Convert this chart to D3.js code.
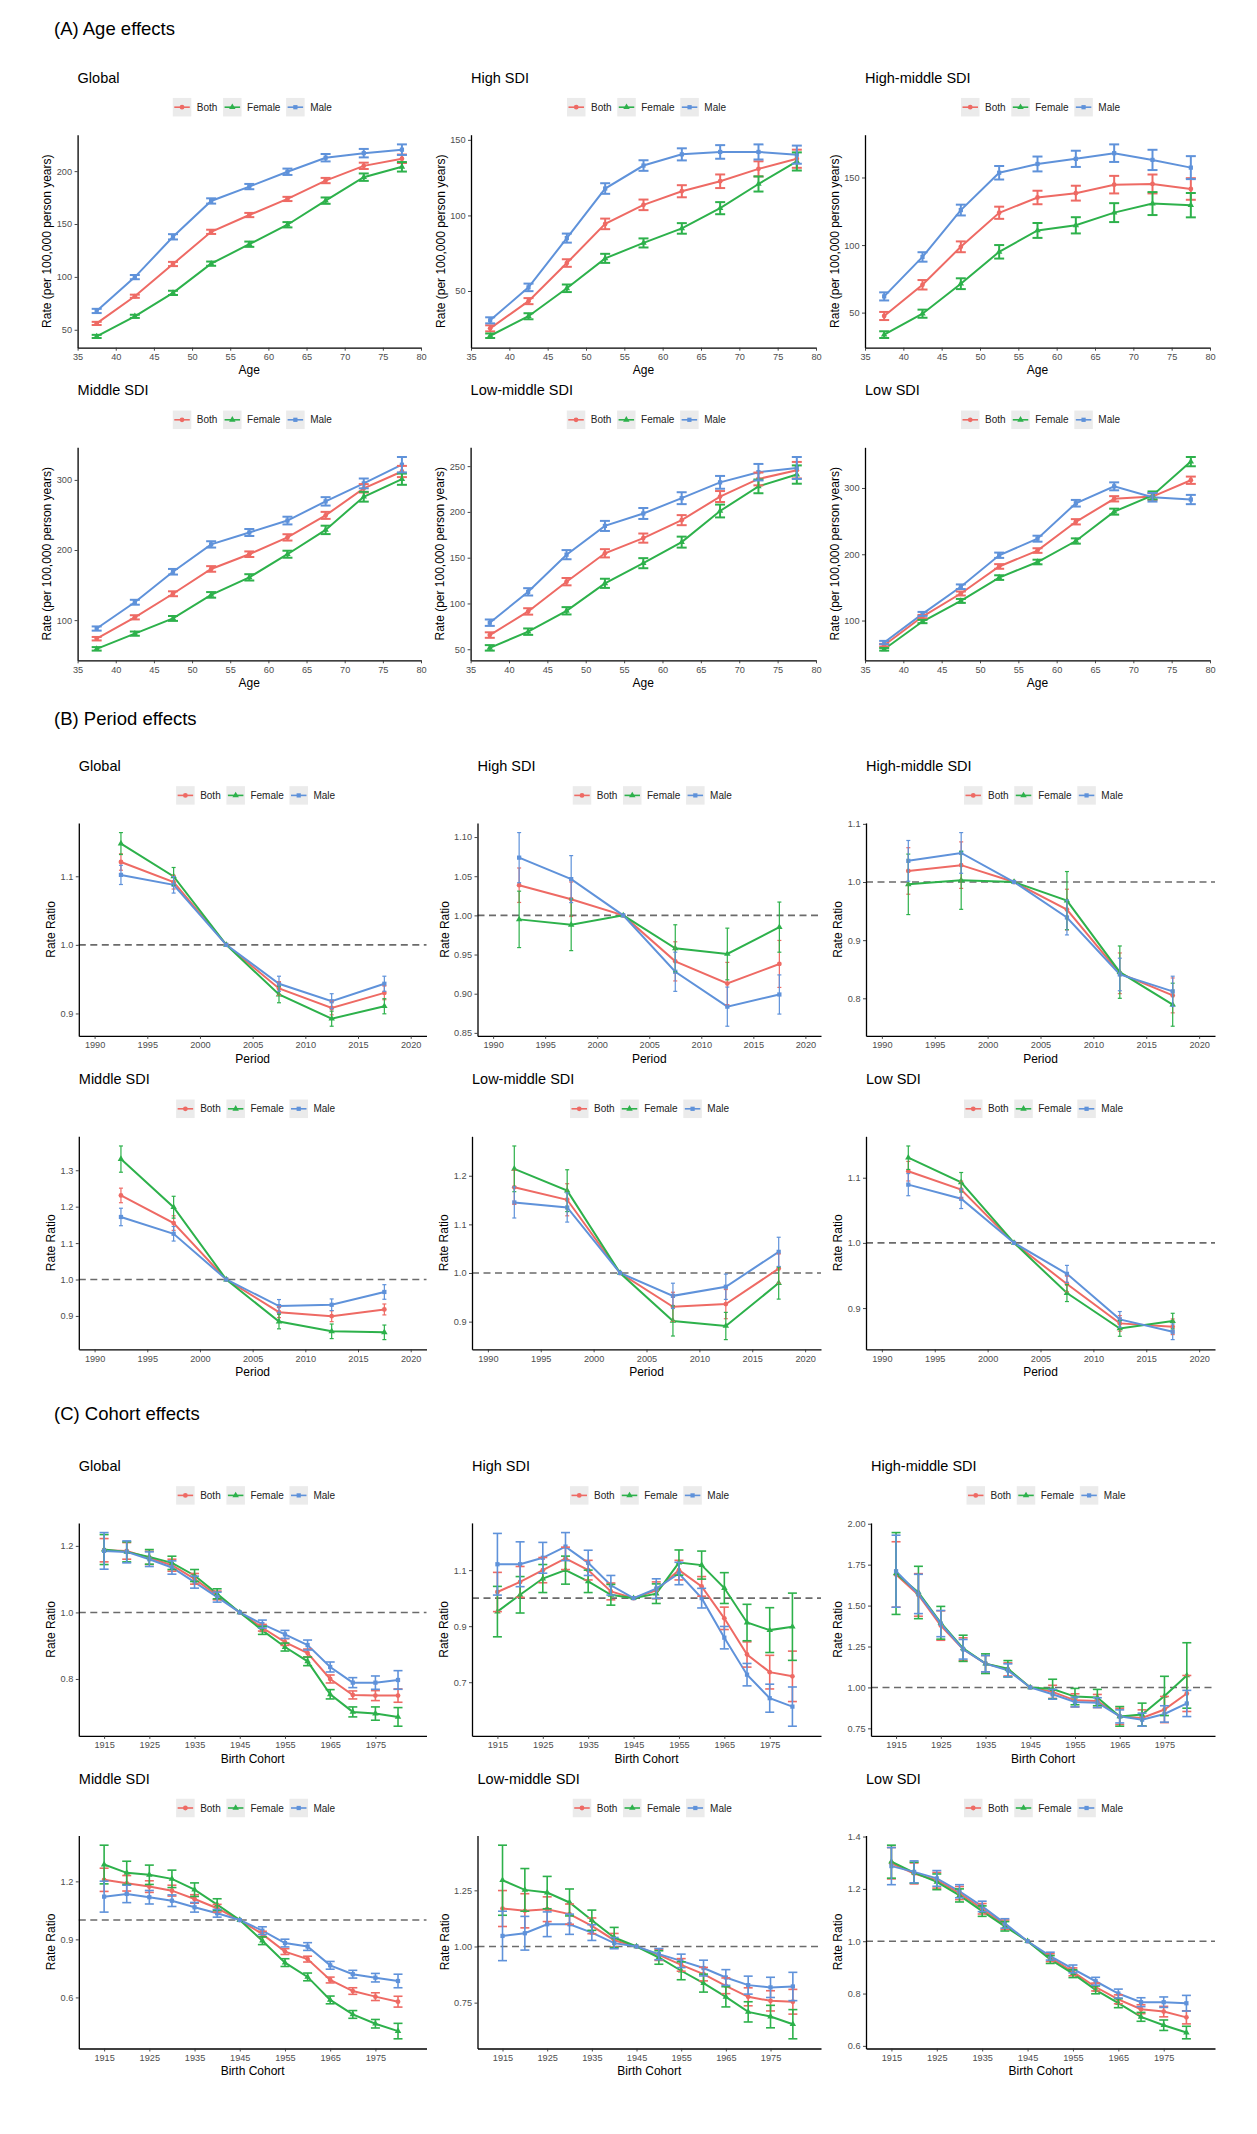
<!DOCTYPE html>
<html>
<head>
<meta charset="utf-8">
<script src="https://cdn.jsdelivr.net/npm/d3@7"></script>
<style>
body { margin: 0; background: #fff; }
svg { display: block; font-family: "Liberation Sans", Arial, sans-serif; }
</style>
</head>
<body>
<div id="app"></div>
<script>
// ---- data ----
const sexes = ['Both', 'Female', 'Male']
const colors = ['#EE6A64', '#2DB14B', '#5F92DA']
const regions = ['Global', 'High SDI', 'High-middle SDI', 'Middle SDI', 'Low-middle SDI', 'Low SDI']

const ageX = [37.5, 42.5, 47.5, 52.5, 57.5, 62.5, 67.5, 72.5, 77.5]
const periodX = [1992.5, 1997.5, 2002.5, 2007.5, 2012.5, 2017.5]
const cohortX = [1915, 1920, 1925, 1930, 1935, 1940, 1945, 1950, 1955, 1960, 1965, 1970, 1975, 1980]

const ageXTicks = [35, 40, 45, 50, 55, 60, 65, 70, 75, 80]
const periodXTicks = [1990, 1995, 2000, 2005, 2010, 2015, 2020]
const cohortXTicks = [1915, 1925, 1935, 1945, 1955, 1965, 1975]

// rows: Both, Female, Male
const ageGlobal = [
  [56, 81.7, 112.2, 142.6, 158.5, 173.7, 191.1, 205, 211.7],
  [43.7, 62.7, 84.9, 112.5, 130.9, 149.3, 172.1, 194.3, 204.1],
  [67.8, 99.8, 137.9, 171.8, 185.4, 199.4, 212.7, 217, 220.3]]
const ageGlobalErr = [
  [1.5, 1.5, 2, 2, 2, 2, 2.5, 3, 4],
  [1.5, 1.5, 2, 2, 2.5, 2.5, 3, 3.5, 4.5],
  [2, 2, 2.5, 2.5, 2.5, 3, 3.5, 4, 5]]
const ageHigh = [
  [25.3, 43.3, 68.5, 94.4, 107, 116, 122.6, 130.8, 137.5],
  [20.4, 33.3, 51.8, 71.6, 81.8, 91.4, 104.8, 120.8, 135.7],
  [30.6, 52.4, 85, 117.8, 133, 140.4, 142, 142, 140.2]]
const ageHighErr = [
  [2, 2, 2.5, 3.5, 3.5, 4, 4.5, 5, 6],
  [1.5, 2, 2.5, 3, 3, 3.5, 4, 5, 6],
  [2, 2.5, 3, 3.5, 3.5, 4, 4.5, 5, 6]]
const ageHighMid = [
  [47.5, 70.6, 98.7, 123.9, 135.2, 138.4, 144.7, 145.2, 141.5],
  [33.7, 49.2, 71.4, 95, 110.8, 114.6, 124, 130.7, 129.5],
  [62, 91.2, 125.9, 153.5, 160, 163.8, 168, 163, 157.3]]
const ageHighMidErr = [
  [3, 3.5, 4, 4.5, 5, 5.5, 6.5, 7, 8],
  [2.5, 3, 4, 5, 5.5, 6, 7, 8.5, 9],
  [3, 3.5, 4, 5, 5.5, 6, 6.5, 7.5, 8.5]]
const ageMiddle = [
  [73.5, 104, 137.6, 173, 194, 218, 249.4, 288, 312],
  [59, 80.7, 102.4, 136, 161, 194, 228.7, 276, 301],
  [88, 125.5, 169, 208, 225, 242, 269.4, 295, 321.7]]
const ageMiddleErr = [
  [2.5, 3, 3.5, 4, 4, 4.5, 5, 6, 8],
  [2.5, 3, 3.5, 4, 4.5, 5, 6, 7, 8],
  [3, 3.5, 4, 4.5, 5, 5.5, 6, 7, 11]]
const ageLowMid = [
  [65.5, 91.3, 123.8, 154.8, 171.4, 191, 216.8, 236, 245.6],
  [51.5, 69.2, 92, 122, 144, 167, 201, 227.9, 240.8],
  [79, 112.7, 153.3, 184.7, 198.3, 215, 232.3, 243.4, 248]]
const ageLowMidErr = [
  [3, 3.5, 4, 4.5, 5, 5.5, 6, 7, 9],
  [3, 3.5, 4, 5, 5.5, 6, 7, 7.5, 10],
  [3.5, 4, 5, 5.5, 6, 6.5, 7, 9, 12]]
const ageLow = [
  [62.8, 106, 140.8, 181.6, 205.6, 249, 283.7, 287, 311.7],
  [56.6, 98.5, 129.6, 164.8, 188.3, 220, 264.3, 288.8, 339.8],
  [66.8, 110, 151, 198.5, 223.5, 277, 302.5, 286, 282.6]]
const ageLowErr = [
  [2, 2.5, 3, 3.5, 3.5, 4, 4, 5, 5.5],
  [2, 2.5, 3, 3.5, 3.5, 4, 4.5, 6, 7],
  [2.5, 3, 3.5, 4, 4.5, 5, 6, 6.5, 7]]

const periodGlobal = [
  [1.1208, 1.0914, 1, 0.9364, 0.908, 0.930],
  [1.1477, 1.0998, 1, 0.9276, 0.8924, 0.9105],
  [1.102, 1.0875, 1, 0.9433, 0.9178, 0.9433]]
const periodGlobalErr = [
  [0.012, 0.01, 0, 0.01, 0.01, 0.01],
  [0.016, 0.013, 0, 0.012, 0.011, 0.011],
  [0.014, 0.012, 0, 0.011, 0.011, 0.011]]
const periodHigh = [
  [1.0385, 1.0206, 1, 0.9413, 0.913, 0.938],
  [0.9949, 0.988, 1, 0.958, 0.9507, 0.985],
  [1.0737, 1.0463, 1, 0.928, 0.8835, 0.899]]
const periodHighErr = [
  [0.022, 0.022, 0, 0.025, 0.027, 0.03],
  [0.036, 0.033, 0, 0.03, 0.033, 0.032],
  [0.032, 0.03, 0, 0.025, 0.025, 0.025]]
const periodHighMid = [
  [1.019, 1.029, 1, 0.9526, 0.843, 0.805],
  [0.996, 1.003, 1, 0.968, 0.845, 0.789],
  [1.0364, 1.050, 1, 0.939, 0.841, 0.812]]
const periodHighMidErr = [
  [0.04, 0.04, 0, 0.035, 0.035, 0.03],
  [0.052, 0.05, 0, 0.05, 0.045, 0.037],
  [0.035, 0.035, 0, 0.03, 0.028, 0.026]]
const periodMiddle = [
  [1.2308, 1.155, 1, 0.9104, 0.8993, 0.9178],
  [1.3306, 1.1985, 1, 0.8846, 0.8578, 0.855],
  [1.1717, 1.1256, 1, 0.927, 0.9307, 0.9658]]
const periodMiddleErr = [
  [0.02, 0.02, 0, 0.015, 0.015, 0.015],
  [0.036, 0.03, 0, 0.02, 0.02, 0.02],
  [0.024, 0.02, 0, 0.018, 0.016, 0.02]]
const periodLowMid = [
  [1.1762, 1.1506, 1, 0.9304, 0.936, 1.009],
  [1.2142, 1.1693, 1, 0.9014, 0.891, 0.9793],
  [1.1451, 1.1347, 1, 0.953, 0.9717, 1.0435]]
const periodLowMidErr = [
  [0.035, 0.033, 0, 0.03, 0.03, 0.03],
  [0.047, 0.043, 0, 0.031, 0.028, 0.033],
  [0.032, 0.03, 0, 0.026, 0.026, 0.03]]
const periodLow = [
  [1.110, 1.0817, 1, 0.937, 0.8765, 0.8713],
  [1.1307, 1.093, 1, 0.923, 0.8687, 0.880],
  [1.0894, 1.0677, 1, 0.9525, 0.8827, 0.8636]]
const periodLowErr = [
  [0.015, 0.013, 0, 0.012, 0.012, 0.012],
  [0.018, 0.015, 0, 0.013, 0.012, 0.012],
  [0.017, 0.015, 0, 0.013, 0.012, 0.012]]

const cohortGlobal = [
  [1.187, 1.185, 1.164, 1.142, 1.101, 1.051, 1, 0.954, 0.911, 0.878, 0.800, 0.752, 0.750, 0.750],
  [1.189, 1.182, 1.167, 1.149, 1.111, 1.056, 1, 0.946, 0.896, 0.853, 0.754, 0.701, 0.696, 0.686],
  [1.185, 1.182, 1.16, 1.135, 1.091, 1.046, 1, 0.965, 0.934, 0.902, 0.836, 0.789, 0.789, 0.797]]
const cohortGlobalErr = [
  [0.035, 0.025, 0.02, 0.018, 0.016, 0.013, 0, 0.01, 0.01, 0.012, 0.012, 0.012, 0.015, 0.02],
  [0.045, 0.03, 0.022, 0.02, 0.018, 0.015, 0, 0.012, 0.012, 0.013, 0.014, 0.015, 0.02, 0.028],
  [0.055, 0.033, 0.022, 0.02, 0.018, 0.015, 0, 0.012, 0.012, 0.015, 0.015, 0.015, 0.02, 0.028]]
const cohortHigh = [
  [1.022, 1.058, 1.1, 1.142, 1.1, 1.024, 1, 1.028, 1.1, 1.042, 0.928, 0.799, 0.736, 0.721],
  [0.952, 1.012, 1.07, 1.1, 1.06, 1.012, 1, 1.016, 1.127, 1.118, 1.036, 0.913, 0.886, 0.898],
  [1.121, 1.121, 1.144, 1.184, 1.126, 1.046, 1, 1.034, 1.088, 1.0, 0.859, 0.727, 0.643, 0.613]]
const cohortHighErr = [
  [0.07, 0.055, 0.045, 0.04, 0.035, 0.03, 0, 0.03, 0.035, 0.035, 0.04, 0.045, 0.06, 0.09],
  [0.09, 0.065, 0.05, 0.05, 0.04, 0.037, 0, 0.035, 0.045, 0.05, 0.055, 0.065, 0.08, 0.12],
  [0.11, 0.08, 0.055, 0.05, 0.045, 0.035, 0, 0.035, 0.04, 0.035, 0.04, 0.04, 0.05, 0.07]]
const cohortHighMid = [
  [1.69, 1.565, 1.378, 1.233, 1.145, 1.11, 1, 0.973, 0.921, 0.917, 0.823, 0.813, 0.865, 0.963],
  [1.696, 1.58, 1.395, 1.239, 1.145, 1.114, 1, 0.99, 0.944, 0.938, 0.823, 0.834, 0.948, 1.073],
  [1.71, 1.571, 1.39, 1.233, 1.145, 1.104, 1, 0.958, 0.911, 0.907, 0.823, 0.803, 0.838, 0.902]]
const cohortHighMidErr = [
  [0.2, 0.13, 0.09, 0.07, 0.05, 0.04, 0, 0.04, 0.04, 0.04, 0.05, 0.05, 0.08, 0.11],
  [0.25, 0.16, 0.1, 0.08, 0.06, 0.05, 0, 0.06, 0.05, 0.05, 0.06, 0.07, 0.12, 0.2],
  [0.22, 0.12, 0.08, 0.06, 0.05, 0.04, 0, 0.03, 0.03, 0.03, 0.04, 0.04, 0.05, 0.08]]
const cohortMiddle = [
  [1.208, 1.19, 1.173, 1.152, 1.109, 1.061, 1, 0.927, 0.837, 0.798, 0.69, 0.633, 0.604, 0.578],
  [1.287, 1.244, 1.234, 1.213, 1.157, 1.08, 1, 0.893, 0.78, 0.706, 0.587, 0.512, 0.464, 0.426],
  [1.121, 1.135, 1.118, 1.1, 1.066, 1.035, 1, 0.945, 0.881, 0.863, 0.766, 0.72, 0.702, 0.685]]
const cohortMiddleErr = [
  [0.06, 0.04, 0.03, 0.028, 0.022, 0.02, 0, 0.015, 0.015, 0.015, 0.015, 0.017, 0.02, 0.028],
  [0.1, 0.06, 0.05, 0.045, 0.035, 0.03, 0, 0.02, 0.02, 0.02, 0.02, 0.02, 0.022, 0.04],
  [0.08, 0.045, 0.035, 0.03, 0.025, 0.02, 0, 0.02, 0.02, 0.02, 0.02, 0.02, 0.022, 0.035]]
const cohortLowMid = [
  [1.169, 1.159, 1.166, 1.144, 1.092, 1.028, 1, 0.963, 0.918, 0.877, 0.825, 0.776, 0.758, 0.754],
  [1.295, 1.252, 1.24, 1.196, 1.117, 1.04, 1, 0.951, 0.892, 0.837, 0.776, 0.709, 0.688, 0.654],
  [1.047, 1.059, 1.099, 1.099, 1.062, 1.015, 1, 0.966, 0.936, 0.904, 0.862, 0.828, 0.818, 0.822]]
const cohortLowMidErr = [
  [0.08, 0.076, 0.055, 0.045, 0.035, 0.03, 0, 0.025, 0.028, 0.03, 0.035, 0.04, 0.045, 0.055],
  [0.156, 0.095, 0.072, 0.06, 0.045, 0.045, 0, 0.03, 0.04, 0.04, 0.045, 0.045, 0.05, 0.065],
  [0.11, 0.075, 0.055, 0.045, 0.035, 0.025, 0, 0.025, 0.03, 0.035, 0.035, 0.04, 0.045, 0.063]]
const cohortLow = [
  [1.298, 1.259, 1.233, 1.184, 1.124, 1.063, 1, 0.937, 0.883, 0.825, 0.778, 0.740, 0.731, 0.709],
  [1.304, 1.262, 1.227, 1.175, 1.115, 1.057, 1, 0.930, 0.876, 0.814, 0.763, 0.711, 0.679, 0.651],
  [1.287, 1.265, 1.240, 1.191, 1.133, 1.068, 1, 0.943, 0.894, 0.847, 0.8, 0.767, 0.767, 0.763]]
const cohortLowErr = [
  [0.06, 0.04, 0.03, 0.025, 0.02, 0.018, 0, 0.015, 0.015, 0.015, 0.017, 0.017, 0.02, 0.025],
  [0.063, 0.04, 0.03, 0.025, 0.02, 0.018, 0, 0.015, 0.015, 0.015, 0.017, 0.017, 0.02, 0.024],
  [0.071, 0.042, 0.03, 0.025, 0.02, 0.018, 0, 0.015, 0.015, 0.015, 0.017, 0.017, 0.02, 0.03]]

// y tick labels, one list per panel
const ageYTicks = [
  ['50', '100', '150', '200'], ['50', '100', '150'], ['50', '100', '150'],
  ['100', '200', '300'], ['50', '100', '150', '200', '250'], ['100', '200', '300']]
const periodYTicks = [
  ['0.9', '1.0', '1.1'], ['0.85', '0.90', '0.95', '1.00', '1.05', '1.10'], ['0.8', '0.9', '1.0', '1.1'],
  ['0.9', '1.0', '1.1', '1.2', '1.3'], ['0.9', '1.0', '1.1', '1.2'], ['0.9', '1.0', '1.1']]
const cohortYTicks = [
  ['0.8', '1.0', '1.2'], ['0.7', '0.9', '1.1'], ['0.75', '1.00', '1.25', '1.50', '1.75', '2.00'],
  ['0.6', '0.9', '1.2'], ['0.75', '1.00', '1.25'], ['0.6', '0.8', '1.0', '1.2', '1.4']]

// ---- layout ----
const panelH = 213
const shapes = [d3.symbolCircle, d3.symbolTriangle, d3.symbolSquare]

const sections = [
  { head: '(A) Age effects', headY: 28.6, tops: [134.7, 447.3],
    lefts: [77.6, 471, 865, 77.6, 470.6, 865], rights: [421, 816, 1210],
    xs: ageX, xDomain: [35, 80], xTicks: ageXTicks, xTitle: 'Age',
    yTitle: 'Rate (per 100,000 person years)',
    sets: [ageGlobal, ageHigh, ageHighMid, ageMiddle, ageLowMid, ageLow],
    errs: [ageGlobalErr, ageHighErr, ageHighMidErr, ageMiddleErr, ageLowMidErr, ageLowErr],
    yTicks: ageYTicks, ref: false, cap: 10, barW: 2 },
  { head: '(B) Period effects', headY: 718.5, tops: [822.9, 1136.3],
    lefts: [78.8, 477.5, 866, 78.8, 472, 866], rights: [426.5, 821, 1215],
    xs: periodX, xDomain: [1988.5, 2021.5], xTicks: periodXTicks, xTitle: 'Period',
    yTitle: 'Rate Ratio',
    sets: [periodGlobal, periodHigh, periodHighMid, periodMiddle, periodLowMid, periodLow],
    errs: [periodGlobalErr, periodHighErr, periodHighMidErr, periodMiddleErr, periodLowMidErr, periodLowErr],
    yTicks: periodYTicks, ref: true, cap: 4, barW: 1.2 },
  { head: '(C) Cohort effects', headY: 1414, tops: [1522.9, 1835.5],
    lefts: [78.8, 472, 871, 78.8, 477.5, 866], rights: [426.5, 821, 1215],
    xs: cohortX, xDomain: [1909.4, 1986.3], xTicks: cohortXTicks, xTitle: 'Birth Cohort',
    yTitle: 'Rate Ratio',
    sets: [cohortGlobal, cohortHigh, cohortHighMid, cohortMiddle, cohortLowMid, cohortLow],
    errs: [cohortGlobalErr, cohortHighErr, cohortHighMidErr, cohortMiddleErr, cohortLowMidErr, cohortLowErr],
    yTicks: cohortYTicks, ref: true, cap: 9, barW: 1.6 }
]

const svg = d3.select('#app').append('svg')
  .attr('width', 1257)
  .attr('height', 2134)

function styleAxis(a) {
  a.select('.domain').attr('stroke', '#000').attr('stroke-width', 1.3)
  a.selectAll('.tick line').attr('stroke', '#333').attr('stroke-width', 0.9)
  a.selectAll('.tick text').attr('fill', '#4d4d4d').attr('font-size', 9.2)
    .attr('font-family', '"Liberation Sans", Arial, sans-serif')
}

function drawPanel(sec, k) {
  const row = Math.floor(k / 3), col = k % 3
  const top = sec.tops[row], bottom = top + panelH
  const left = sec.lefts[k], right = sec.rights[col]
  const vals = sec.sets[k], errs = sec.errs[k]
  const lo = d3.min(vals.flatMap((s, i) => s.map((v, j) => v - errs[i][j])))
  const hi = d3.max(vals.flatMap((s, i) => s.map((v, j) => v + errs[i][j])))
  const pad = (hi - lo) * 0.05

  const x = d3.scaleLinear().domain(sec.xDomain).range([left, right])
  const y = d3.scaleLinear().domain([lo - pad, hi + pad]).range([bottom, top])
  const g = svg.append('g')

  g.append('text')
    .attr('x', left).attr('y', top - 57).attr('dy', '0.35em')
    .attr('font-size', 14.5).attr('fill', '#000')
    .text(regions[k])

  if (sec.ref) {
    g.append('line')
      .attr('x1', left).attr('x2', right)
      .attr('y1', y(1)).attr('y2', y(1))
      .attr('stroke', '#6b6b6b').attr('stroke-width', 1.6)
      .attr('stroke-dasharray', '7,4.5')
  }

  const line = d3.line().x((d, j) => x(sec.xs[j])).y(d => y(d))
  vals.forEach((s, i) => {
    g.append('path').attr('d', line(s))
      .attr('fill', 'none').attr('stroke', colors[i]).attr('stroke-width', 2)
  })
  vals.forEach((s, i) => {
    g.selectAll(null).data(s).enter().append('path')
      .attr('transform', (d, j) => `translate(${x(sec.xs[j])},${y(d)})`)
      .attr('d', d3.symbol().type(shapes[i]).size(18))
      .attr('fill', colors[i])
  })
  vals.forEach((s, i) => {
    const bars = g.selectAll(null).data(s.map((v, j) => ({ v, e: errs[i][j], t: sec.xs[j] })).filter(d => d.e > 0))
      .enter().append('g')
      .attr('stroke', colors[i]).attr('stroke-width', sec.barW)
    bars.append('line')
      .attr('x1', d => x(d.t)).attr('x2', d => x(d.t))
      .attr('y1', d => y(d.v - d.e)).attr('y2', d => y(d.v + d.e))
    bars.append('line')
      .attr('x1', d => x(d.t) - sec.cap / 2).attr('x2', d => x(d.t) + sec.cap / 2)
      .attr('y1', d => y(d.v - d.e)).attr('y2', d => y(d.v - d.e))
    bars.append('line')
      .attr('x1', d => x(d.t) - sec.cap / 2).attr('x2', d => x(d.t) + sec.cap / 2)
      .attr('y1', d => y(d.v + d.e)).attr('y2', d => y(d.v + d.e))
  })

  const labels = sec.yTicks[k]
  const ya = g.append('g').attr('transform', `translate(${left},0)`)
    .call(d3.axisLeft(y).tickValues(labels.map(Number)).tickFormat((d, i) => labels[i])
      .tickSize(3).tickSizeOuter(0).tickPadding(2.5))
  styleAxis(ya)
  const xa = g.append('g').attr('transform', `translate(0,${bottom})`)
    .call(d3.axisBottom(x).tickValues(sec.xTicks).tickFormat(d3.format('d'))
      .tickSize(3).tickSizeOuter(0).tickPadding(3))
  styleAxis(xa)

  const labW = d3.max(ya.selectAll('text').nodes(), n => n.getComputedTextLength())
  g.append('text')
    .attr('transform', `translate(${left - 5.5 - labW - 9.5},${(top + bottom) / 2}) rotate(-90)`)
    .attr('text-anchor', 'middle').attr('dy', '0.35em')
    .attr('font-size', 12).attr('fill', '#000')
    .text(sec.yTitle)
  g.append('text')
    .attr('x', (left + right) / 2).attr('y', bottom + 22.5).attr('dy', '0.35em')
    .attr('text-anchor', 'middle').attr('font-size', 12).attr('fill', '#000')
    .text(sec.xTitle)

  // legend on top of the panel
  const lg = g.append('g')
  const ly = top - 27.5
  let cx = 0
  sexes.forEach((name, i) => {
    const item = lg.append('g').attr('transform', `translate(${cx},0)`)
    item.append('rect').attr('x', 0).attr('y', ly - 9.25)
      .attr('width', 18.5).attr('height', 18.5).attr('fill', '#ebebeb')
    item.append('line').attr('x1', 1.5).attr('x2', 17).attr('y1', ly).attr('y2', ly)
      .attr('stroke', colors[i]).attr('stroke-width', 1.6)
    item.append('path').attr('transform', `translate(9.25,${ly})`)
      .attr('d', d3.symbol().type(shapes[i]).size(18)).attr('fill', colors[i])
    const t = item.append('text').attr('x', 24).attr('y', ly).attr('dy', '0.35em')
      .attr('font-size', 10).attr('fill', '#222').text(name)
    cx += 24 + t.node().getComputedTextLength() + 5.7
  })
  const lw = cx - 5.7
  lg.attr('transform', `translate(${(left + right) / 2 + 3 - lw / 2},0)`)
}

sections.forEach(sec => {
  svg.append('text')
    .attr('x', 54).attr('y', sec.headY).attr('dy', '0.35em')
    .attr('font-size', 18.5).attr('fill', '#000')
    .text(sec.head)
  d3.range(6).forEach(k => drawPanel(sec, k))
})
</script>
</body>
</html>
